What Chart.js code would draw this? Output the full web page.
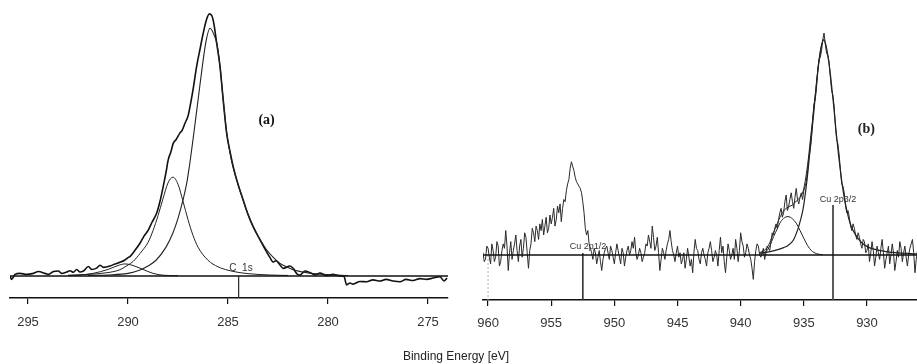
<!DOCTYPE html>
<html>
<head>
<meta charset="utf-8">
<script src="https://cdn.jsdelivr.net/npm/chart.js@4.4.1/dist/chart.umd.min.js"></script>
<style>
  body { margin: 0; background: #fff; }
  #wrap { position: relative; width: 917px; height: 364px; overflow: hidden; background: #fff; }
  #c1s { position: absolute; left: 0; top: 0; }
  #cu2p { position: absolute; left: 460px; top: 0; }
  #xlabel { position: absolute; left: 0; top: 349px; width: 912px; text-align: center;
            font: 12px "Liberation Sans", Arial, sans-serif; color: #222; }
</style>
</head>
<body>
<div id="wrap">
  <canvas id="c1s" width="460" height="364"></canvas>
  <canvas id="cu2p" width="457" height="364"></canvas>
  <div id="xlabel">Binding Energy [eV]</div>
</div>
<script>
// ---- panel (a): C 1s ----
const c1sTicks = [295, 290, 285, 280, 275];

const c1sEnergy = [295.9, 295.82, 295.65, 295.4, 295.07, 294.73, 294.48, 294.15, 293.98, 293.73,
  293.48, 293.32, 293.07, 292.9, 292.73, 292.57, 292.4, 292.23, 291.98, 291.82,
  291.57, 291.4, 291.23, 290.9, 290.65, 290.4, 290.15, 289.98, 289.9, 289.65,
  289.4, 289.2, 288.98, 288.8, 288.57, 288.4, 288.24, 288.1, 287.99, 287.85,
  287.74, 287.6, 287.4, 287.3, 287.15, 287.0, 286.9, 286.75, 286.57, 286.4,
  286.24, 286.08, 285.93, 285.8, 285.7, 285.57, 285.4, 285.24, 285.07, 284.9,
  284.74, 284.5, 284.24, 284.0, 283.74, 283.4, 283.07, 282.9, 282.74, 282.6,
  282.4, 282.24, 281.9, 281.74, 281.55, 281.4, 281.15, 280.9, 280.65, 280.4,
  280.1, 279.75, 279.4, 279.2, 279.07, 278.9, 278.75, 278.4, 278.07, 277.75,
  277.4, 277.1, 276.75, 276.4, 276.1, 275.75, 275.4, 275.07, 274.75, 274.4,
  274.2, 274.05];
const c1sCounts = [0, -1.3, 0.6, 1.0, 0.6, 1.0, 1.7, 1.0, 0.6, 1.7,
  1.9, 1.0, 1.5, 2.0, 1.4, 2.5, 1.5, 1.9, 3.6, 2.5,
  3.0, 4.1, 3.3, 3.8, 4.6, 5.2, 6.1, 7.1, 7.4, 9.8,
  12.5, 15.2, 17.6, 20.5, 23.9, 28.5, 34.1, 39.5, 44.3, 47.5,
  50.6, 52.0, 54.6, 55.5, 58.3, 61.0, 64.6, 71, 79.9, 86.5,
  92.6, 97.7, 100, 99.2, 96, 89, 80, 67.2, 54.6, 47.5,
  41.7, 35, 29.0, 23.5, 18.8, 13.8, 9.2, 7.0, 5.3, 5.8,
  4.2, 2.9, 3.8, 2.9, 0.8, 0.4, 1.9, 1.3, 0.4, 1.1,
  0.2, 0.6, 0, -0.2, -3.4, -2.7, -3.1, -2.1, -2.2, -1.5,
  -1.9, -1.3, -1.9, -2.2, -1.3, -1.7, -1.0, -1.3, -0.8, -0.3,
  -1.9, -0.8];

// fitted components
const ccEnergy = [292, 291, 290.0, 289.4, 289.0, 288.6, 288.1, 287.75, 287.5, 287.25,
  287.05, 286.9, 286.75, 286.6, 286.45, 286.3, 286.1, 285.9, 285.7, 285.55,
  285.4, 285.25, 285.07, 284.9, 284.75, 284.5, 284.25, 284.0, 283.75, 283.4,
  283.07, 282.75, 282.4, 282.0, 281.75, 281.0, 280.0, 279.0];
const ccCounts = [0.2, 0.4, 1.0, 2.3, 3.8, 6.0, 11, 16.5, 22, 29,
  36, 43.5, 52, 61, 70, 79, 89.5, 94.5, 92, 88.5,
  80, 68, 55, 47, 41.7, 35, 29, 23.5, 18.8, 14,
  10, 7.2, 4.8, 3.2, 2.4, 1.2, 0.5, 0.2];

const coEnergy = [293, 292, 291, 290.4, 290.0, 289.75, 289.4, 289.0, 288.75, 288.5,
  288.25, 288.0, 287.75, 287.5, 287.25, 287.0, 286.75, 286.5, 286.0, 285.5,
  285.0, 284.5, 284.0, 283.0, 282.0];
const coCounts = [0.3, 0.6, 1.3, 2.4, 4.2, 5.5, 8.6, 12.8, 17.3, 23,
  29.5, 35.5, 37.7, 35, 28.5, 21.5, 15.5, 11, 6, 3.5,
  2.2, 1.4, 0.9, 0.4, 0.2];

const cooEnergy = [293, 292.5, 291.75, 291.0, 290.5, 290.15, 289.75, 289.25, 288.75, 288.25, 287.5];
const cooCounts = [0.1, 0.3, 1.0, 2.5, 4.0, 4.6, 4.0, 2.5, 1.0, 0.3, 0.1];

const c1sMarker = 284.47;

// ---- panel (b): Cu 2p ----
const cuTicks = [960, 955, 950, 945, 940, 935, 930];

const cuEnergy = [
  960.4, 960.3, 960.2, 960.1, 960.0, 959.9, 959.8, 959.7, 959.6, 959.5,
  959.4, 959.3, 959.2, 959.1, 959.0, 958.9, 958.8, 958.7, 958.6, 958.5,
  958.4, 958.3, 958.2, 958.1, 958.0, 957.9, 957.8, 957.7, 957.6, 957.5,
  957.4, 957.3, 957.2, 957.1, 957.0, 956.9, 956.8, 956.7, 956.6, 956.5,
  956.4, 956.3, 956.2, 956.1, 956.0, 955.9, 955.8, 955.7, 955.6, 955.5,
  955.4, 955.3, 955.2, 955.1, 955.0, 954.9, 954.8, 954.7, 954.6, 954.5,
  954.4, 954.3, 954.2, 954.1, 954.0, 953.9, 953.8, 953.7, 953.6, 953.5,
  953.4, 953.3, 953.2, 953.1, 953.0, 952.9, 952.8, 952.7, 952.6, 952.5,
  952.4, 952.3, 952.2, 952.1, 952.0, 951.9, 951.8, 951.7, 951.6, 951.5,
  951.4, 951.3, 951.2, 951.1, 951.0, 950.9, 950.8, 950.7, 950.6, 950.5,
  950.4, 950.3, 950.2, 950.1, 950.0, 949.9, 949.8, 949.7, 949.6, 949.5,
  949.4, 949.3, 949.2, 949.1, 949.0, 948.9, 948.8, 948.7, 948.6, 948.5,
  948.4, 948.3, 948.2, 948.1, 948.0, 947.9, 947.8, 947.7, 947.6, 947.5,
  947.4, 947.3, 947.2, 947.1, 947.0, 946.9, 946.8, 946.7, 946.6, 946.5,
  946.4, 946.3, 946.2, 946.1, 946.0, 945.9, 945.8, 945.7, 945.6, 945.5,
  945.4, 945.3, 945.2, 945.1, 945.0, 944.9, 944.8, 944.7, 944.6, 944.5,
  944.4, 944.3, 944.2, 944.1, 944.0, 943.9, 943.8, 943.7, 943.6, 943.5,
  943.4, 943.3, 943.2, 943.1, 943.0, 942.9, 942.8, 942.7, 942.6, 942.5,
  942.4, 942.3, 942.2, 942.1, 942.0, 941.9, 941.8, 941.7, 941.6, 941.5,
  941.4, 941.3, 941.2, 941.1, 941.0, 940.9, 940.8, 940.7, 940.6, 940.5,
  940.4, 940.3, 940.2, 940.1, 940.0, 939.9, 939.8, 939.7, 939.6, 939.5,
  939.4, 939.3, 939.2, 939.1, 939.0, 938.9, 938.8, 938.7, 938.6, 938.5,
  938.4, 938.3, 938.2, 938.1, 938.0, 937.9, 937.8, 937.7, 937.6, 937.5,
  937.4, 937.3, 937.2, 937.1, 937.0, 936.9, 936.8, 936.7, 936.6, 936.5,
  936.4, 936.3, 936.2, 936.1, 936.0, 935.9, 935.8, 935.7, 935.6, 935.5,
  935.4, 935.3, 935.2, 935.1, 935.0, 934.9, 934.8, 934.7, 934.6, 934.5,
  934.4, 934.3, 934.2, 934.1, 934.0, 933.9, 933.8, 933.7, 933.6, 933.5,
  933.4, 933.3, 933.2, 933.1, 933.0, 932.9, 932.8, 932.7, 932.6, 932.5,
  932.4, 932.3, 932.2, 932.1, 932.0, 931.9, 931.8, 931.7, 931.6, 931.5,
  931.4, 931.3, 931.2, 931.1, 931.0, 930.9, 930.8, 930.7, 930.6, 930.5,
  930.4, 930.3, 930.2, 930.1, 930.0, 929.9, 929.8, 929.7, 929.6, 929.5,
  929.4, 929.3, 929.2, 929.1, 929.0, 928.9, 928.8, 928.7, 928.6, 928.5,
  928.4, 928.3, 928.2, 928.1, 928.0, 927.9, 927.8, 927.7, 927.6, 927.5,
  927.4, 927.3, 927.2, 927.1, 927.0, 926.9, 926.8, 926.7, 926.6, 926.5,
  926.4, 926.3, 926.2, 926.1, 926.0];
const cuCounts = [
  1, -3, -2, 4, 3, -1, -4, 5, 2, -3,
  -1, 6, 4, -5, -3, 2, 5, 3, 11, 4,
  -7, 1, 6, -2, 2, 5, 9, 2, -3, 4,
  7, -1, 3, 10, 8, 1, -6, 2, 5, 12,
  10, 6, 13, 11, 7, 14, 11, 16, 9, 13,
  17, 10, 12, 18, 14, 17, 21, 13, 16, 22,
  19, 23, 15, 21, 25, 24, 29, 32, 34, 39,
  42, 40, 38, 35, 33, 32, 31, 30, 28, 24,
  19, 12, 9, 11, 5, 3, 1, -2, 3, 1,
  -4, -1, 2, -3, -7, -2, 1, 3, 4, 1,
  -2, 4, 2, -1, -4, 1, 5, 2, -1, -4,
  3, 1, -5, -1, 2, 4, 0, 2, 6, 3,
  8, 1, -2, 0, 3, 1, -3, -1, 1, 5,
  4, 9, 6, 3, 13, 8, 2, 4, 8, 1,
  -7, -2, 3, 1, -2, 2, 5, 7, 11, 6,
  2, 0, -3, 1, 4, -1, 1, -4, -2, 1,
  -6, -2, 3, -1, -5, -2, -8, 1, 7, 3,
  2, -2, -4, 1, 3, 0, -2, -5, 1, 3,
  6, 2, -3, -1, 2, 0, -5, 2, 8, 1,
  4, -3, -8, -1, 5, 2, -2, 0, 3, -2,
  7, 3, -3, 2, 10, 6, 4, -1, 1, 5,
  3, 0, -2, -6, -11, -3, 2, 5, 4, 0,
  -1, 1, 3, -2, 1, 4, 3, 2, 6, 10,
  9, 12, 14, 12, 16, 19, 21, 17, 19, 24,
  27, 20, 22, 25, 28, 24, 21, 26, 30, 25,
  23, 26, 28, 25, 29, 31, 33, 38, 44, 47,
  52, 61, 68, 70, 75, 83, 88, 89, 92, 97,
  100, 95, 91, 90, 87, 80, 74, 72, 67, 58,
  52, 50, 45, 38, 32, 31, 28, 22, 19, 20,
  17, 13, 11, 14, 12, 9, 7, 10, 8, 5,
  3, 7, 6, 1, 2, 5, -3, 1, 6, 2,
  -5, -1, 4, 1, -2, 3, 7, 1, -6, -2,
  1, 4, -4, 0, 5, 1, -7, -3, 2, -1,
  6, 3, -3, 1, 4, -1, -5, 0, 3, 5,
  7, 1, -8, -2, 2];

// fitted components
const cuMainEnergy = [938.5, 938.0, 937.5, 937.0, 936.6, 936.25, 935.85, 935.45, 935.25, 935.05,
  934.85, 934.65, 934.45, 934.25, 934.05, 933.85, 933.65, 933.45, 933.25, 933.05,
  932.85, 932.65, 932.45, 932.25, 932.05, 931.85, 931.65, 931.45, 931.25, 931.05,
  930.65, 930.25, 929.85, 929.45, 928.5, 927.5, 926.0];
const cuMainCounts = [0.8, 1.2, 1.7, 2.5, 3.3, 4.3, 6.5, 12, 16, 21,
  29, 39, 51, 62, 74, 85, 93, 97, 94.5, 88,
  79, 68, 56, 45, 35.5, 27.5, 21.5, 16.5, 13, 10.5,
  7, 4.7, 3.4, 2.6, 1.5, 0.9, 0.5];

const cuSatEnergy = [938.4, 938.0, 937.7, 937.4, 937.1, 936.9, 936.6, 936.25, 935.9, 935.6,
  935.3, 935.0, 934.7, 934.4, 934.0, 933.5];
const cuSatCounts = [0.3, 1.5, 4, 8.2, 11.8, 14.3, 16.5, 17.3, 16.3, 14.3,
  11, 7.5, 4.2, 2, 0.6, 0.1];

const cuSumEnergy = [938.5, 938.0, 937.7, 937.4, 937.1, 936.9, 936.6, 936.25, 935.9, 935.6,
  935.3, 935.05, 934.85, 934.65, 934.45, 934.25, 934.05, 933.85, 933.65, 933.45];
const cuSumCounts = [1.0, 2.7, 5.5, 10.1, 14.1, 16.9, 19.8, 21.6, 22.5, 24.3,
  26, 28.8, 34.7, 43, 53.7, 63.8, 74.9, 85.4, 93.2, 97];

const cuMarkers = [952.5, 932.69];

function pts(xs, ys) {
  return xs.map((x, i) => ({ x: x, y: ys[i] }));
}

function line(data, width, color, extra) {
  return Object.assign({
    data: data,
    borderColor: color,
    borderWidth: width,
    pointRadius: 0,
    fill: false,
    cubicInterpolationMode: 'monotone'
  }, extra || {});
}

function textPlugin(items) {
  return {
    id: 'panelText',
    afterDatasetsDraw(chart) {
      const ctx = chart.ctx;
      const xs = chart.scales.x, ys = chart.scales.y;
      ctx.save();
      items.forEach(t => {
        ctx.font = t.font;
        ctx.fillStyle = t.color;
        ctx.textAlign = 'center';
        ctx.textBaseline = 'middle';
        ctx.fillText(t.text, xs.getPixelForValue(t.x), ys.getPixelForValue(t.y));
      });
      ctx.restore();
    }
  };
}

function axisX(min, max, ticks, height, pad) {
  return {
    type: 'linear',
    reverse: true,
    min: min,
    max: max,
    afterBuildTicks: s => { s.ticks = ticks.map(v => ({ value: v })); },
    afterFit: s => { s.height = height; },
    grid: { display: true, drawOnChartArea: false, drawTicks: true, tickLength: 6, color: '#111', lineWidth: 1.2 },
    border: { display: true, color: '#111', width: 1.6 },
    ticks: { padding: pad, color: '#333', maxRotation: 0, font: { family: 'Liberation Sans', size: 13 } }
  };
}

const leftMin = -8.4, leftMax = 105.3;
new Chart(document.getElementById('c1s'), {
  type: 'line',
  data: {
    datasets: [
      line([{ x: 295.9, y: 0 }, { x: 274.0, y: 0 }], 1.4, '#111', { cubicInterpolationMode: 'default' }),
      line([{ x: c1sMarker, y: 0 }, { x: c1sMarker, y: leftMin }], 1, '#333', { cubicInterpolationMode: 'default' }),
      line(pts(cooEnergy, cooCounts), 1, '#222'),
      line(pts(coEnergy, coCounts), 1, '#222'),
      line(pts(ccEnergy, ccCounts), 1.1, '#222'),
      line(pts(c1sEnergy, c1sCounts), 1.6, '#111')
    ]
  },
  options: {
    responsive: false,
    animation: false,
    parsing: false,
    layout: { padding: { left: 10, right: 12, top: 0, bottom: 0 } },
    plugins: { legend: { display: false }, tooltip: { enabled: false } },
    scales: {
      x: axisX(274.0, 295.9, c1sTicks, 66, 11),
      y: { display: false, min: leftMin, max: leftMax }
    }
  },
  plugins: [textPlugin([
    { text: '(a)', x: 283.07, y: 59.5, font: 'bold 14px "Liberation Serif"', color: '#111' },
    { text: 'C  1s', x: 284.35, y: 3.1, font: '10px "Liberation Sans"', color: '#333' }
  ])]
});

const rightMin = -20.3, rightMax = 114.9;
new Chart(document.getElementById('cu2p'), {
  type: 'line',
  data: {
    datasets: [
      line([{ x: 960.4, y: 0 }, { x: 926.04, y: 0 }], 1.5, '#111', { cubicInterpolationMode: 'default' }),
      line([{ x: 960, y: 0 }, { x: 960, y: rightMin }], 1, '#aaa', { cubicInterpolationMode: 'default', borderDash: [2, 2] }),
      line([{ x: cuMarkers[0], y: 0.8 }, { x: cuMarkers[0], y: rightMin }], 1, '#333', { cubicInterpolationMode: 'default' }),
      line([{ x: cuMarkers[1], y: 22.5 }, { x: cuMarkers[1], y: rightMin }], 1, '#444', { cubicInterpolationMode: 'default' }),
      line(pts(cuSatEnergy, cuSatCounts), 1, '#222'),
      line(pts(cuSumEnergy, cuSumCounts), 1, '#222'),
      line(pts(cuMainEnergy, cuMainCounts), 1.2, '#222'),
      line(pts(cuEnergy, cuCounts), 1, '#2a2a2a', { cubicInterpolationMode: 'default' })
    ]
  },
  options: {
    responsive: false,
    animation: false,
    parsing: false,
    layout: { padding: { left: 23, right: 0, top: 0, bottom: 0 } },
    plugins: { legend: { display: false }, tooltip: { enabled: false } },
    scales: {
      x: axisX(926.04, 960.4, cuTicks, 64, 9.5),
      y: { display: false, min: rightMin, max: rightMax }
    }
  },
  plugins: [textPlugin([
    { text: '(b)', x: 930.05, y: 56.8, font: 'bold 14px "Liberation Serif"', color: '#222' },
    { text: 'Cu 2p3/2', x: 932.3, y: 24.8, font: '9px "Liberation Sans"', color: '#333' },
    { text: 'Cu 2p1/2', x: 952.08, y: 3.6, font: '9px "Liberation Sans"', color: '#333' }
  ])]
});
</script>
</body>
</html>
